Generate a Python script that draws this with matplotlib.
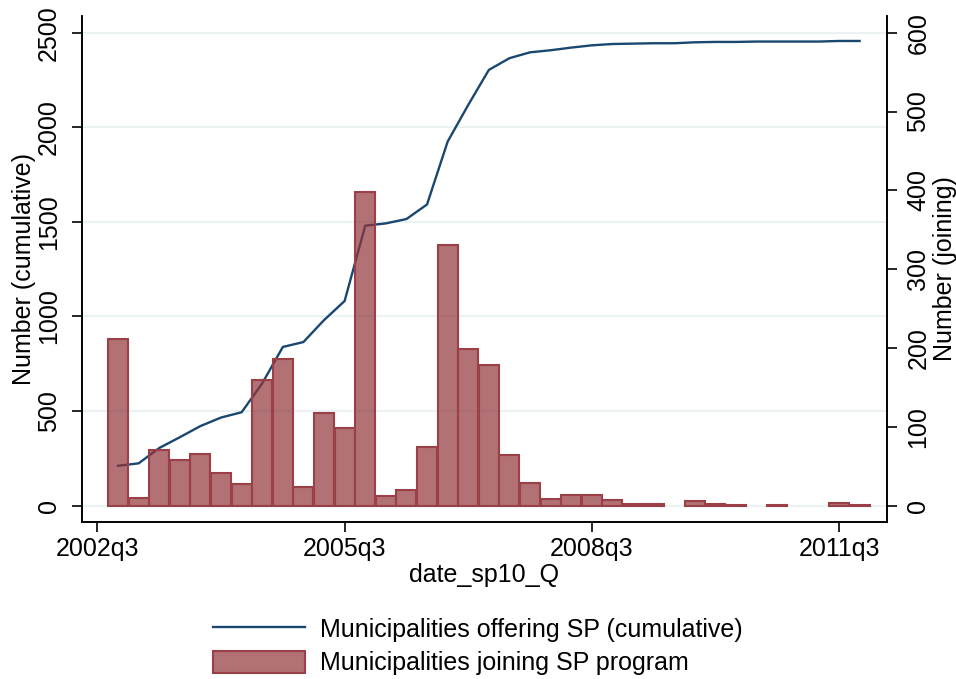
import numpy as np
import matplotlib
matplotlib.use("Agg")
import matplotlib.pyplot as plt
from matplotlib.colors import to_rgba

plt.rcParams['font.family'] = ['Liberation Sans', 'DejaVu Sans']

# quarters 2002q4 .. 2011q4
quarters = ['2002q4', '2003q1', '2003q2', '2003q3', '2003q4', '2004q1', '2004q2',
            '2004q3', '2004q4', '2005q1', '2005q2', '2005q3', '2005q4', '2006q1',
            '2006q2', '2006q3', '2006q4', '2007q1', '2007q2', '2007q3', '2007q4',
            '2008q1', '2008q2', '2008q3', '2008q4', '2009q1', '2009q2', '2009q3',
            '2009q4', '2010q1', '2010q2', '2010q3', '2010q4', '2011q1', '2011q2',
            '2011q3', '2011q4']

# municipalities joining (right axis)
joining = [212, 10, 71, 58, 66, 42, 27, 159, 186, 24, 118, 99, 398, 12, 20, 75,
           331, 199, 179, 64, 29, 9, 13, 13, 7, 2, 2, 0, 6, 2, 1, 0, 1, 0, 0, 3, 1]

# municipalities offering SP, cumulative (left axis)
cumulative = [211, 224, 305, 362, 421, 466, 494, 647, 839, 865, 981, 1082, 1480,
              1492, 1515, 1592, 1924, 2118, 2303, 2365, 2396, 2407, 2421, 2433,
              2440, 2442, 2444, 2444, 2449, 2451, 2451, 2453, 2453, 2453, 2453,
              2456, 2456]

xtick_labels = ['2002q3', '2005q3', '2008q3', '2011q3']


def qnum(s):
    # stata quarterly date number
    y, q = s.split('q')
    return (int(y) - 1960) * 4 + int(q) - 1


x = np.array([qnum(s) for s in quarters])
xticks = [qnum(s) for s in xtick_labels]

navy = '#1a476f'
maroon = '#90353b'
grid = '#eaf2f3'
fs = 18

fig = plt.figure(figsize=(9.56, 6.79), dpi=100)
ax = fig.add_axes([82/956, 1 - 522/679, (887-82)/956, (522-16)/679])
ax2 = ax.twinx()

l1, = ax.plot(x, cumulative, color=navy, linewidth=1.7, zorder=2,
              label='Municipalities offering SP (cumulative)')
b1 = ax2.bar(x, joining, width=0.97, color=to_rgba(maroon, 0.7), edgecolor='#9a4046',
             linewidth=1.5, label='Municipalities joining SP program')
for p, v in zip(b1, joining):
    if v == 0:
        p.set_edgecolor('none')

ax.set_xlim(169.25, 208.33)
ax.set_ylim(-86, 2588)
ax2.set_ylim(-20.7, 621.2)

ax.set_yticks([0, 500, 1000, 1500, 2000, 2500])
ax2.set_yticks([0, 100, 200, 300, 400, 500, 600])
ax.set_xticks(xticks)
ax.set_xticklabels(xtick_labels)

ax.yaxis.grid(True, color=grid, linewidth=1.5)
ax.set_axisbelow(True)

for a in (ax, ax2):
    a.spines['top'].set_visible(False)
    for s in ('left', 'right', 'bottom'):
        a.spines[s].set_linewidth(1.2)
    a.tick_params(length=7, width=1.2, labelsize=fs, direction='out')
ax.tick_params(axis='y', pad=8)
ax2.tick_params(axis='y', pad=7)

for lab in ax.get_yticklabels():
    lab.set_rotation(90)
    lab.set_va('center')
for lab in ax2.get_yticklabels():
    lab.set_rotation(90)
    lab.set_va('center')

ax.set_ylabel('Number (cumulative)', fontsize=fs, labelpad=1)
ax2.set_ylabel('Number (joining)', fontsize=fs, labelpad=2)
ax.set_xlabel('date_sp10_Q', fontsize=fs, labelpad=2)

fig.legend([l1, b1], [l1.get_label(), b1.get_label()], loc='center',
           bbox_to_anchor=(478/956, 1 - 646/679), frameon=False, fontsize=fs,
           handlelength=3.7, handleheight=1.0, labelspacing=0.36, handletextpad=0.6)

fig.savefig('out.png', dpi=100, facecolor='white')
